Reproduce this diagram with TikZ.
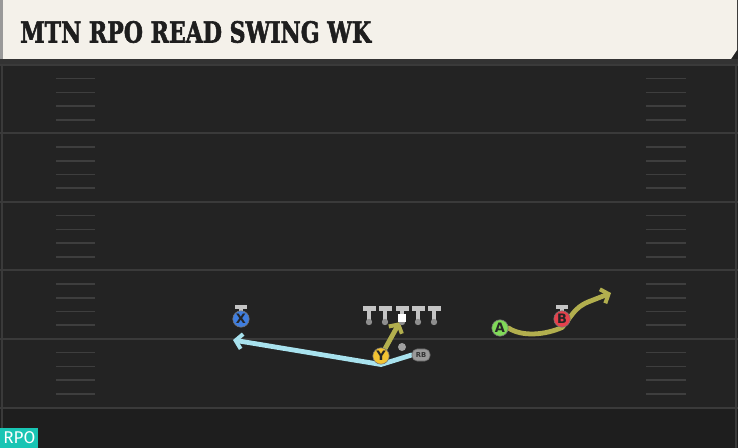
\documentclass[tikz,border=0pt]{standalone}
\usepackage{fontspec}
\setmainfont{DejaVu Sans}
\newfontfamily\titlefont{DejaVu Serif}[FakeBold=2.2]
\newfontfamily\tagfont{Fira Sans}
\usetikzlibrary{arrows.meta}

\definecolor{fieldbg}{HTML}{232323}
\definecolor{fieldlow}{HTML}{1E1E1E}
\definecolor{yardline}{HTML}{3A3A3A}
\definecolor{hashline}{HTML}{3E3E3E}
\definecolor{headbg}{HTML}{F4F1EA}
\definecolor{headtext}{HTML}{1E1E1E}
\definecolor{xblue}{HTML}{3F7EE0}
\definecolor{yyellow}{HTML}{F3C332}
\definecolor{agreen}{HTML}{80DA58}
\definecolor{bred}{HTML}{E6414C}
\definecolor{routeblue}{HTML}{A8E2EE}
\definecolor{routeolive}{HTML}{B2AF4E}
\definecolor{bargray}{HTML}{C4C4C4}
\definecolor{dotgray}{HTML}{8E8E8E}
\definecolor{tagteal}{HTML}{19C5B4}

\pgfdeclarelayer{field}
\pgfdeclarelayer{routes}
\pgfsetlayers{field,routes,main}

\begin{document}
\begin{tikzpicture}[x=0.5pt, y=-0.5pt,
    player/.style={circle, draw=black!55, line width=0.3pt, minimum size=8.2pt, inner sep=0pt,
                   font=\bfseries\fontsize{6.5}{6.5}\selectfont, text=black!85},
    tbar/.style={fill=bargray},
    route/.style={line width=2.4pt, line cap=round, line join=round,
                  -{Straight Barb[length=3.2pt, width=7.5pt, line width=2pt]}}]

  \useasboundingbox (0,0) rectangle (738,448);

  \begin{pgfonlayer}{field}
    % field
    \fill[fieldbg] (0,0) rectangle (738,448);
    \fill[fieldlow] (0,408) rectangle (738,448);
    \fill[black!80] (0,59) rectangle (738,65);
    \foreach \k in {0,...,5}
      \draw[yardline, line width=1pt] (0,65+68.5*\k) -- (738,65+68.5*\k);
    \foreach \k in {0,...,4}
      \foreach \j in {1,...,4} {
        \draw[hashline, line width=0.8pt] (56,65+68.5*\k+13.7*\j) -- (95,65+68.5*\k+13.7*\j);
        \draw[hashline, line width=0.8pt] (646,65+68.5*\k+13.7*\j) -- (686,65+68.5*\k+13.7*\j);
      }
    \draw[yardline, line width=0.6pt] (2,65) -- (2,448);
    \draw[yardline, line width=0.6pt] (736,65) -- (736,448);

    % header
    \fill[black!40] (0,0) rectangle (3,59);
    \fill[headbg] (3,0) -- (737,0) -- (737,50) -- (731,59) -- (3,59) -- cycle;
  \end{pgfonlayer}

  \node[anchor=west, inner sep=0pt, xscale=0.76, text=headtext,
        font=\titlefont\bfseries\fontsize{14.5}{14.5}\selectfont] (title) at (20,32) {MTN RPO READ SWING WK};

  % line
  \foreach \i/\px in {1/369, 2/385, 3/402, 4/418, 5/434} {
    \fill[tbar] (\px-6.5,306) rectangle (\px+6.5,311);
    \fill[tbar] (\px-2.2,309) rectangle (\px+2.2,321);
    \fill[dotgray] (\px,322) circle (3.2);
    \coordinate (ol\i) at (\px,322);
  }
  \node[fill=white, minimum size=3.8pt, inner sep=0pt] (ctr) at (402,318) {};

  % receivers
  \fill[tbar] (235,305) rectangle (247,309);
  \fill[tbar] (239,308) rectangle (243,312);
  \node[player, fill=xblue] (x) at (241,319) {X};
  \fill[tbar] (556,305) rectangle (568,309);
  \fill[tbar] (560,308) rectangle (564,312);
  \node[player, fill=bred] (b) at (562,319) {B};
  \node[player, fill=agreen] (a) at (500,328) {A};
  \node[player, fill=yyellow] (y) at (381,356) {Y};
  \node[circle, fill=dotgray!85, minimum size=4pt, inner sep=0pt] (qb) at (402,347) {};
  \node[fill=black!40, draw=black!60, line width=0.3pt, rounded corners=2.5pt,
        minimum width=9pt, minimum height=6pt, inner sep=0pt,
        font=\bfseries\fontsize{3.4}{3.4}\selectfont, text=black!80] (rb) at (421,355) {RB};

  \coordinate (xend) at (233,340);
  \coordinate (bend) at (611,293);

  % routes
  \begin{pgfonlayer}{routes}
    \draw[route, routeblue] (rb.west) -- (y.south) -- (xend);
    \draw[route, routeolive] (y) -- (ctr);
    \draw[route, routeolive] (a.east) .. controls (522,337) and (545,335) .. (b.south)
      .. controls (572,316) and (574,308) .. (588,302) -- (bend);
  \end{pgfonlayer}

  % tag
  \node[fill=tagteal, anchor=south west, minimum width=19pt, minimum height=10pt, inner sep=0pt,
        text=white, font=\tagfont\fontsize{8.5}{8.5}\selectfont] (tag) at (0,448) {RPO};
\end{tikzpicture}
\end{document}
